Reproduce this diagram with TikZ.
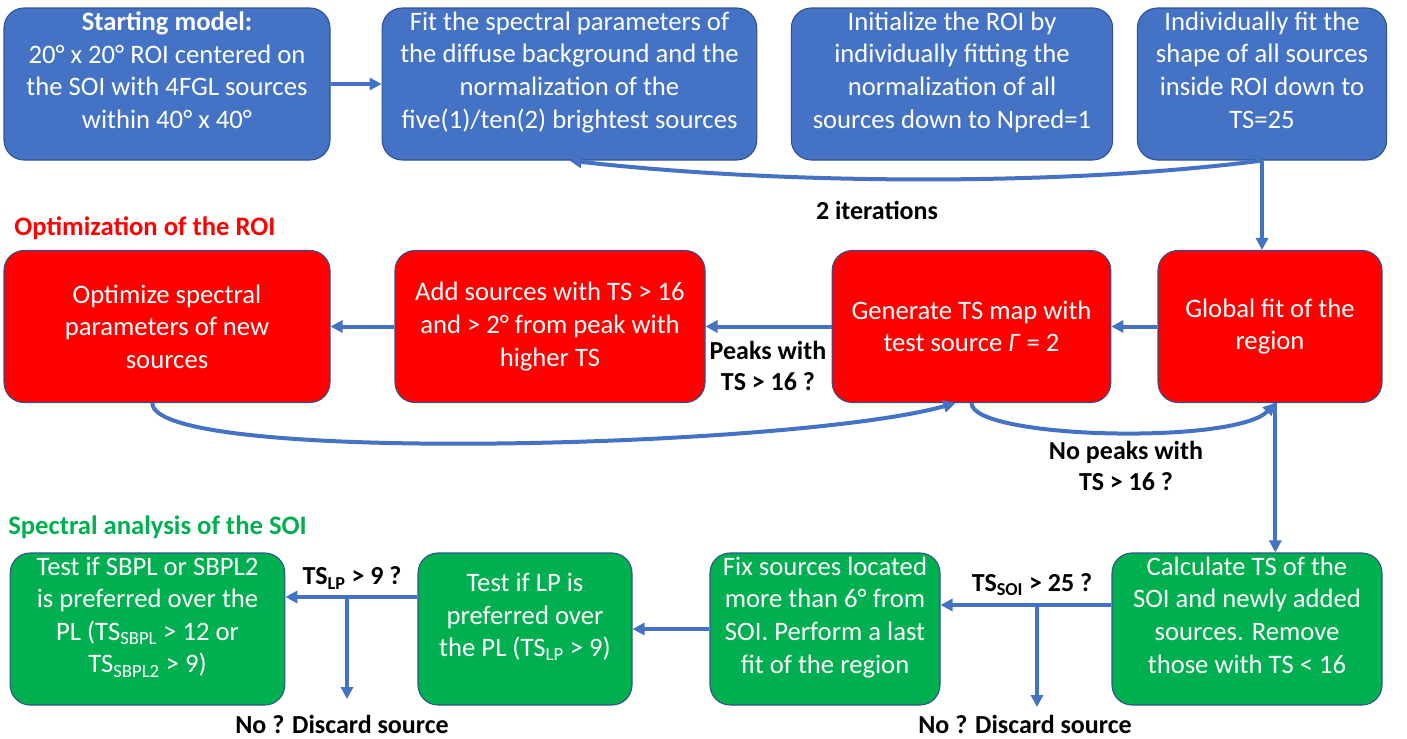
\documentclass[tikz,border=0pt]{standalone}
\usepackage{fontspec}
\setmainfont{Carlito}
\usetikzlibrary{arrows.meta, positioning, calc}
\definecolor{stepblue}{HTML}{4472C4}
\definecolor{edgeblue}{HTML}{2F528F}
\definecolor{roired}{HTML}{FF0000}
\definecolor{soigreen}{HTML}{00B050}
\tikzset{
    box/.style={
        rectangle, rounded corners=15pt, draw=edgeblue, line width=0.8pt,
        align=center, text=white, font=\fontsize{20}{24.4}\selectfont,
        minimum height=114pt, inner sep=0pt
    },
    fitbox/.style={
        box, fill=stepblue, text depth=21pt
    },
    roibox/.style={
        box, fill=roired
    },
    soibox/.style={
        box, fill=soigreen, text depth=21pt
    },
    arrow/.style={
        -{Triangle[length=9pt, width=9pt]}, line width=3pt, draw=stepblue
    },
    note/.style={
        align=center, font=\fontsize{19.5}{23}\selectfont\bfseries
    },
    heading/.style={
        anchor=west, inner sep=0pt, font=\fontsize{20}{24}\selectfont\bfseries
    }
}

\begin{document}
\begin{tikzpicture}[x=0.75pt, y=-0.75pt]
    \useasboundingbox (0,0) rectangle (1407,739);

    % ── Fit of the model ──
    \node[fitbox, minimum width=244.5pt] (start) at (167,84)
        {\textbf{Starting model:}\\20° x 20° ROI centered on\\the SOI with 4FGL sources\\within 40° x 40°};
    \node[fitbox, minimum width=281pt]   (bright) at (569.5,84)
        {Fit the spectral parameters of\\the diffuse background and the\\normalization of the\\five(1)/ten(2) brightest sources};
    \node[fitbox, minimum width=241pt]   (init) at (952,84)
        {Initialize the ROI by\\individually fitting the\\normalization of all\\sources down to Npred=1};
    \node[fitbox, minimum width=187pt]   (shape) at (1262,84)
        {Individually fit the\\shape of all sources\\inside ROI down to\\TS=25};

    % ── Optimization of the ROI ──
    \node[heading, text=roired] (roihead) at (14,228) {Optimization of the ROI};
    \node[roibox, minimum width=244.5pt] (optim) at (167,326.5)
        {Optimize spectral\\parameters of new\\sources};
    \node[roibox, minimum width=232.5pt] (add) at (550,326.5)
        {Add sources with TS > 16\\and > 2° from peak with\\higher TS};
    \node[roibox, minimum width=209pt]   (tsmap) at (971.5,326.5)
        {Generate TS map with\\test source \textit{Γ} = 2};
    \node[roibox, minimum width=168pt]   (global) at (1270,326.5)
        {Global fit of the\\region};

    % ── Spectral analysis of the SOI ──
    \node[heading, text=soigreen] (soihead) at (8,527) {Spectral analysis of the SOI};
    \node[soibox, minimum width=206pt]   (sbpl) at (147.5,629)
        {Test if SBPL or SBPL2\\is preferred over the\\PL (TS\textsubscript{SBPL} > 12 or\\TS\textsubscript{SBPL2} > 9)};
    \node[soibox, minimum width=160.5pt] (lp) at (525,629)
        {Test if LP is\\preferred over\\the PL (TS\textsubscript{LP} > 9)};
    \node[soibox, minimum width=172.5pt] (fix) at (825,629)
        {Fix sources located\\more than 6° from\\SOI. Perform a last\\fit of the region};
    \node[soibox, minimum width=202.5pt] (calc) at (1247,629)
        {Calculate TS of the\\SOI and newly added\\sources. Remove\\those with TS < 16};

    % ── Arrows ──
    \draw[arrow] (start) -- (bright);
    \draw[arrow] (shape.south) .. controls +(-200,26) and +(210,24) .. (bright.south);
    \draw[arrow] (shape.south) -- (shape.south |- global.north);
    \draw[arrow] (global) -- (tsmap);
    \draw[arrow] (tsmap) -- (add);
    \draw[arrow] (add) -- (optim);
    \draw[arrow] ([xshift=-11pt]optim.south) .. controls +(0,62) and +(-160,45) .. ([xshift=-12pt]tsmap.south);
    \draw[arrow] (tsmap.south) .. controls +(0,36) and +(-40,42) .. ([xshift=4pt]global.south);
    \draw[arrow] ([xshift=4pt]global.south) -- ([xshift=4pt]global.south |- calc.north);

    \coordinate (fork1) at (1037,605);
    \coordinate (stop1) at (1037,707);
    \coordinate (fork2) at (347,597);
    \coordinate (stop2) at (347,699);
    \draw[arrow] ([yshift=18pt]calc.west) -- ([yshift=18pt]calc.west -| fix.east);
    \draw[arrow] (fork1) -- (stop1);
    \draw[arrow] (fix) -- (lp);
    \draw[arrow] ([yshift=24pt]lp.west) -- ([yshift=24pt]lp.west -| sbpl.east);
    \draw[arrow] (fork2) -- (stop2);

    % ── Labels ──
    \node[note] (iter)   at (877,210)  {2 iterations};
    \node[note] (peaks)  at (768,366)  {Peaks with\\TS > 16 ?};
    \node[note] (nopeak) at (1126,466) {No peaks with\\TS > 16 ?};
    \node[note] (soicut) at (1032,585) {TS\textsubscript{SOI} > 25 ?};
    \node[note] (lpcut)  at (352,578)  {TS\textsubscript{LP} > 9 ?};
    \node[note] (drop1)  at (1025,724) {No ? Discard source};
    \node[note] (drop2)  at (342,724)  {No ? Discard source};

\end{tikzpicture}
\end{document}
